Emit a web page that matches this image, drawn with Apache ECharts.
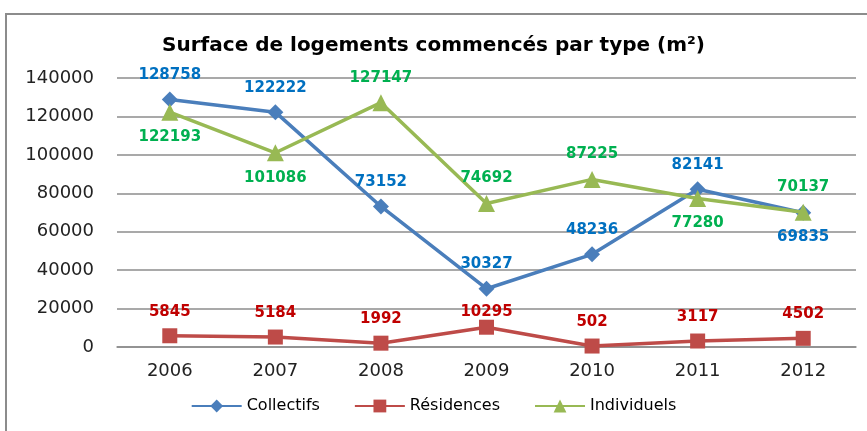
<!DOCTYPE html>
<html>
<head>
<meta charset="utf-8">
<script src="https://cdn.jsdelivr.net/npm/echarts@6/dist/echarts.min.js"></script>
<style>
  html, body { margin: 0; padding: 0; background: #fff; }
  #frame { position: absolute; left: 5px; top: 13px; width: 900px; height: 500px;
           border-left: 2px solid #8c8c8c; border-top: 2px solid #8c8c8c; }
  #chart { width: 867px; height: 431px; position: absolute; left: 0; top: 0; }
</style>
</head>
<body>
<div id="frame"></div>
<div id="chart"></div>
<script>
// données
var years = ['2006', '2007', '2008', '2009', '2010', '2011', '2012'];
var collectifs = [128758, 122222, 73152, 30327, 48236, 82141, 69835];
var residences = [5845, 5184, 1992, 10295, 502, 3117, 4502];
var individuels = [122193, 101086, 127147, 74692, 87225, 77280, 70137];
// position des étiquettes (au-dessus / en dessous)
var posCollectifs = ['top', 'top', 'top', 'top', 'top', 'top', 'bottom'];
var posIndividuels = ['bottom', 'bottom', 'top', 'top', 'top', 'bottom', 'top'];
var posResidences = ['top', 'top', 'top', 'top', 'top', 'top', 'top'];

var chart = echarts.init(document.getElementById('chart'));

function withLabels(values, positions) {
    return values.map(function (v, i) {
        return { value: v, label: { position: positions[i] } };
    });
}

function labelStyle(color) {
    return {
        show: true,
        color: color,
        fontFamily: 'DejaVu Sans',
        fontWeight: 'bold',
        fontSize: 15,
        distance: 9
    };
}

var resData = withLabels(residences, posResidences);
resData[3].label.distance = 0; // 10295 collé au marqueur

chart.setOption({
    animation: false,
    title: {
        text: 'Surface de logements commencés par type (m²)',
        left: 'center',
        top: 31,
        textStyle: { fontFamily: 'DejaVu Sans', fontWeight: 'bold', fontSize: 20, color: '#000' }
    },
    grid: { left: 117, right: 11, top: 78, bottom: 84 },
    legend: {
        bottom: 12,
        left: 'center',
        itemWidth: 50,
        itemHeight: 16,
        itemGap: 34,
        textStyle: { fontFamily: 'DejaVu Sans', fontSize: 16, color: '#000' },
        data: ['Collectifs', 'Résidences', 'Individuels']
    },
    xAxis: {
        type: 'category',
        data: years,
        axisLine: { lineStyle: { color: '#8c8c8c', width: 1.5 } },
        axisTick: { show: false },
        axisLabel: { fontFamily: 'DejaVu Sans', fontSize: 18, color: '#222', margin: 15 }
    },
    yAxis: {
        type: 'value',
        min: 0,
        max: 140000,
        interval: 20000,
        axisLine: { show: false },
        axisTick: { show: false },
        axisLabel: {
            fontFamily: 'DejaVu Sans', fontSize: 18, color: '#222', margin: 23,
            formatter: function (v) { return String(v); }
        },
        splitLine: { lineStyle: { color: '#8c8c8c', width: 1.5 } }
    },
    series: [
        {
            name: 'Collectifs',
            type: 'line',
            data: withLabels(collectifs, posCollectifs),
            symbol: 'diamond',
            symbolSize: 16,
            color: '#4a7ebb',
            lineStyle: { width: 3.5 },
            label: labelStyle('#0070c0'),
            z: 3
        },
        {
            name: 'Résidences',
            type: 'line',
            data: resData,
            symbol: 'rect',
            symbolSize: 15,
            color: '#be4b48',
            lineStyle: { width: 3.5 },
            label: labelStyle('#c00000'),
            z: 2
        },
        {
            name: 'Individuels',
            type: 'line',
            data: withLabels(individuels, posIndividuels),
            symbol: 'triangle',
            symbolSize: 17,
            color: '#98b954',
            lineStyle: { width: 3.5 },
            label: labelStyle('#00b050'),
            z: 4
        }
    ]
});
</script>
</body>
</html>
